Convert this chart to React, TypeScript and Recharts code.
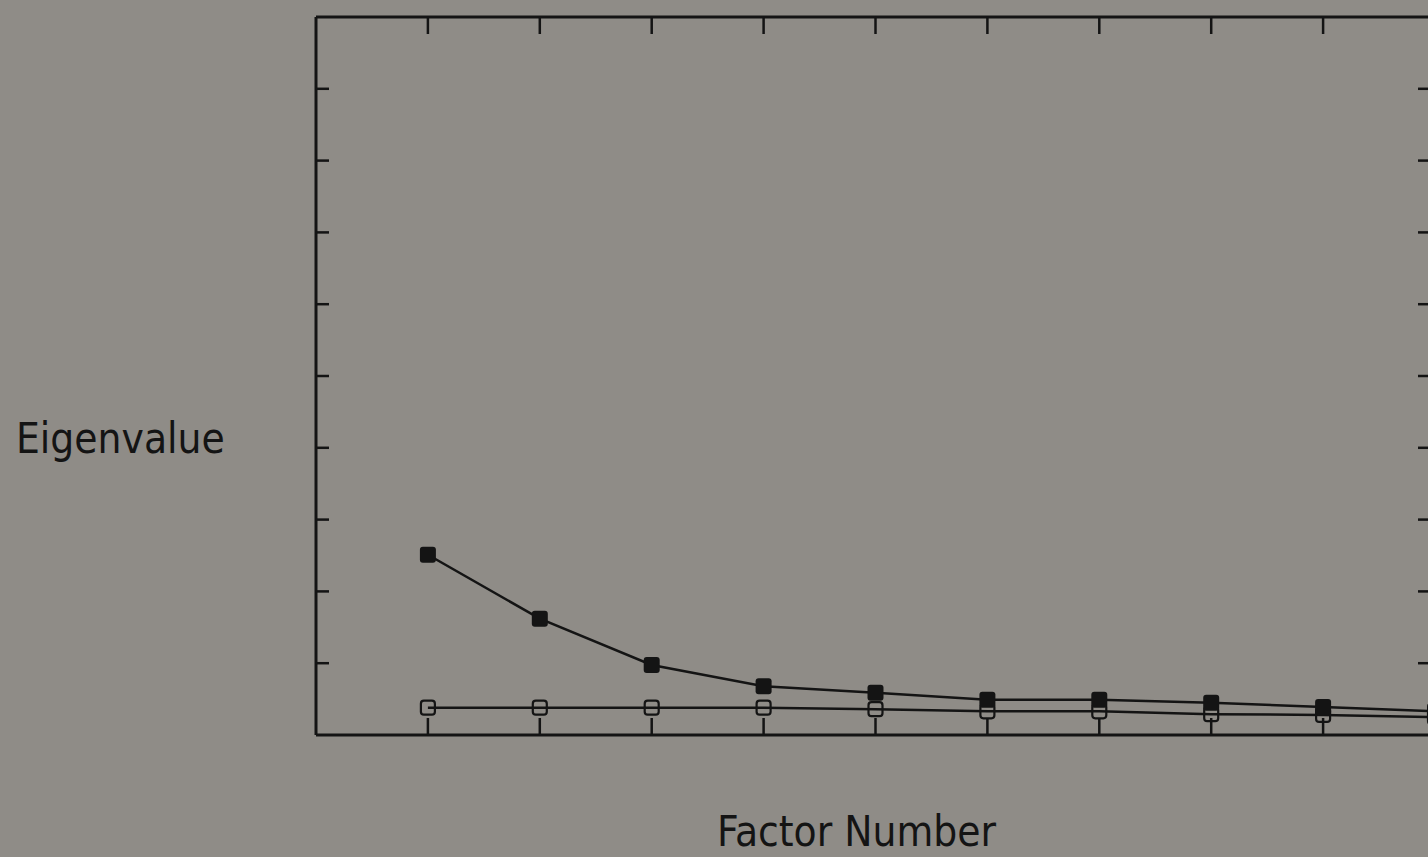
import React from "react";
import { LineChart, Line, XAxis, YAxis } from "recharts";

const factors = [1, 2, 3, 4, 5, 6, 7, 8, 9, 10];
const observedEigen = [2.51, 1.62, 0.975, 0.68, 0.59, 0.49, 0.49, 0.45, 0.39, 0.33];
const randomEigen = [0.38, 0.38, 0.38, 0.38, 0.36, 0.33, 0.33, 0.29, 0.28, 0.25];
const xTicks = [1, 2, 3, 4, 5, 6, 7, 8, 9, 10];
const yTicks = [1, 2, 3, 4, 5, 6, 7, 8, 9];
const yLabel = "Eigenvalue";
const xLabel = "Factor Number";

const data = factors.map((f, i) => ({ factor: f, observed: observedEigen[i], random: randomEigen[i] }));

const BG = "#8f8c87";
const INK = "#141414";
const FONT = "'DejaVu Sans Condensed', 'DejaVu Sans', sans-serif";

const NoLabel = () => <g />;

const FilledDot = (props: any) => {
  const { cx, cy, index } = props;
  if (cx == null || cy == null) return <g key={`f-${index}`} />;
  return <rect key={`f-${index}`} x={cx - 8} y={cy - 8} width={16} height={16} rx={3} fill={INK} />;
};

const OpenDot = (props: any) => {
  const { cx, cy, index } = props;
  if (cx == null || cy == null) return <g key={`o-${index}`} />;
  return (
    <rect key={`o-${index}`} x={cx - 7} y={cy - 7} width={14} height={14} rx={3} fill="none" stroke={INK} strokeWidth={2.2} />
  );
};

export default function App() {
  const axisLine = { stroke: INK, strokeWidth: 3 };
  const tickLine = { stroke: INK, strokeWidth: 2.5 };
  return (
    <div style={{ position: "fixed", left: 0, top: 0, width: 1428, height: 857, overflow: "hidden", background: BG }}>
      <LineChart width={1460} height={857} data={data} margin={{ top: 17, left: 316, right: 25, bottom: 122 }}>
        <XAxis xAxisId="b" dataKey="factor" type="number" domain={[0, 10]} ticks={xTicks} orientation="bottom" mirror tick={NoLabel} tickSize={17} axisLine={axisLine} tickLine={tickLine} />
        <XAxis xAxisId="t" dataKey="factor" type="number" domain={[0, 10]} ticks={xTicks} orientation="top" mirror tick={NoLabel} tickSize={17} axisLine={axisLine} tickLine={tickLine} />
        <YAxis yAxisId="l" type="number" domain={[0, 10]} ticks={yTicks} orientation="left" mirror tick={NoLabel} tickSize={13} axisLine={axisLine} tickLine={tickLine} />
        <YAxis yAxisId="r" type="number" domain={[0, 10]} ticks={yTicks} orientation="right" mirror tick={NoLabel} tickSize={17} axisLine={axisLine} tickLine={tickLine} />
        <Line xAxisId="b" yAxisId="r" type="linear" dataKey="random" stroke={INK} strokeWidth={2.5} dot={OpenDot} activeDot={false} isAnimationActive={false} />
        <Line xAxisId="t" yAxisId="l" type="linear" dataKey="observed" stroke={INK} strokeWidth={2.5} dot={FilledDot} activeDot={false} isAnimationActive={false} />
      </LineChart>
      <svg width={1428} height={857} style={{ position: "absolute", left: 0, top: 0, pointerEvents: "none" }}>
        <text x={16} y={453} fontFamily={FONT} fontSize={42} fill={INK}>{yLabel}</text>
        <text x={717} y={846} fontFamily={FONT} fontSize={42} fill={INK}>{xLabel}</text>
      </svg>
    </div>
  );
}
